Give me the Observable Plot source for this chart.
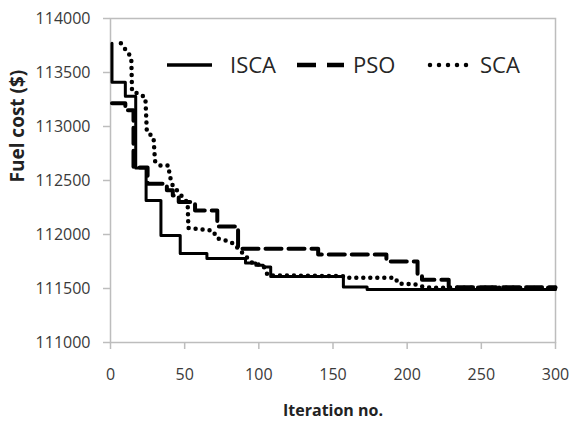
<!DOCTYPE html>
<html>
<head>
<meta charset="utf-8">
<script src="https://cdn.jsdelivr.net/npm/d3@7"></script>
<script src="https://cdn.jsdelivr.net/npm/@observablehq/plot@0.6"></script>
<style>
  html, body { margin: 0; padding: 0; background: white; }
  #wrap { position: relative; width: 569px; height: 426px; }
  #legend { position: absolute; left: 0; top: 0; }
</style>
</head>
<body>
<div id="wrap"></div>
<script>
const seriesNames = ["ISCA", "PSO", "SCA"];
const xTicks = [0, 50, 100, 150, 200, 250, 300];
const yTicks = [111000, 111500, 112000, 112500, 113000, 113500, 114000];

const iscaIter = [1, 1, 10, 17, 24, 34, 47, 65, 91, 98, 103, 108, 157, 173, 300];
const iscaCost = [113770, 113410, 113280, 112615, 112315, 111990, 111825, 111778, 111735, 111715, 111700, 111612, 111515, 111490, 111490];

const psoIter = [1, 10, 15.5, 25, 38, 42, 46, 57, 72, 86, 140, 186, 207, 210, 228, 300];
const psoCost = [113215, 113150, 112620, 112470, 112410, 112360, 112300, 112222, 112075, 111868, 111815, 111750, 111620, 111580, 111512, 111512];

const scaIter = [7, 14, 14.5, 23.5, 24.5, 29, 30, 33, 39, 40, 42, 46, 49, 52, 52.5, 69, 72, 78, 83, 86, 96, 103, 106, 157, 158, 192, 194, 205, 208, 215, 300];
const scaCost = [113770, 113640, 113330, 113270, 112950, 112900, 112680, 112640, 112640, 112540, 112450, 112390, 112340, 112296, 112060, 112037, 111963, 111944, 111917, 111870, 111731, 111713, 111622, 111614, 111600, 111600, 111545, 111540, 111522, 111508, 111505];

const isca = iscaIter.map((x, i) => ({x, y: iscaCost[i]}));
const pso = psoIter.map((x, i) => ({x, y: psoCost[i]}));
const sca = scaIter.map((x, i) => ({x, y: scaCost[i]}));

const font = "'Open Sans', 'Noto Sans', sans-serif";
const gray = "#bdbdbd";
const textColor = "#3a3a3a";

const chart = Plot.plot({
  width: 569,
  height: 426,
  marginLeft: 110,
  marginRight: 14,
  marginTop: 18,
  marginBottom: 84,
  style: {fontFamily: font, fontSize: "16px", color: textColor, background: "white", overflow: "visible"},
  x: {domain: [0, 300], label: null},
  y: {domain: [111000, 114000], label: null},
  marks: [
    Plot.frame({stroke: gray, strokeWidth: 1.5}),
    Plot.axisX({ticks: xTicks, tickSize: 7, tickPadding: 19, stroke: gray, strokeWidth: 1.5, fill: textColor, label: null, fontSize: 16}),
    Plot.axisY({ticks: yTicks, tickSize: 7, tickPadding: 13, stroke: gray, strokeWidth: 1.5, fill: textColor, label: null, fontSize: 16, tickFormat: d => String(d)}),
    Plot.text(["Iteration no."], {frameAnchor: "bottom", dy: 68, lineAnchor: "middle", fontWeight: "bold", fontSize: 16, fill: "#222"}),
    Plot.text(["Fuel cost ($)"], {frameAnchor: "left", dx: -93, dy: 2, rotate: -90, lineAnchor: "middle", fontWeight: "bold", fontSize: 19, fill: "#222"}),
    Plot.line(isca, {x: "x", y: "y", curve: "step-after", stroke: "black", strokeWidth: 3}),
    Plot.line(pso, {x: "x", y: "y", curve: "step-after", stroke: "black", strokeWidth: 4, strokeDasharray: "16,7"}),
    Plot.line(sca, {x: "x", y: "y", curve: "linear", stroke: "black", strokeWidth: 4.5, strokeDasharray: "0,7", strokeLinecap: "round"})
  ]
});

const wrap = document.getElementById("wrap");
wrap.appendChild(chart);

// Legend overlay (inside the plot area, top)
const legendItems = [
  {name: seriesNames[0], x1: 167, x2: 212, tx: 230, dash: null, width: 3.5, cap: "butt"},
  {name: seriesNames[1], x1: 297, x2: 344, tx: 353, dash: "19,11", width: 4.5, cap: "butt"},
  {name: seriesNames[2], x1: 430, x2: 467, tx: 480, dash: "0,9", width: 4.5, cap: "round"}
];
const lg = d3.select(wrap).append("svg")
  .attr("id", "legend")
  .attr("width", 569).attr("height", 426)
  .style("pointer-events", "none");
const ly = 65;
legendItems.forEach(d => {
  const l = lg.append("line")
    .attr("x1", d.x1).attr("x2", d.x2).attr("y1", ly).attr("y2", ly)
    .attr("stroke", "black").attr("stroke-width", d.width)
    .attr("stroke-linecap", d.cap);
  if (d.dash) l.attr("stroke-dasharray", d.dash);
  lg.append("text")
    .attr("x", d.tx).attr("y", ly + 8)
    .attr("font-family", font).attr("font-size", 22)
    .attr("fill", "#262626")
    .text(d.name);
});
</script>
</body>
</html>
